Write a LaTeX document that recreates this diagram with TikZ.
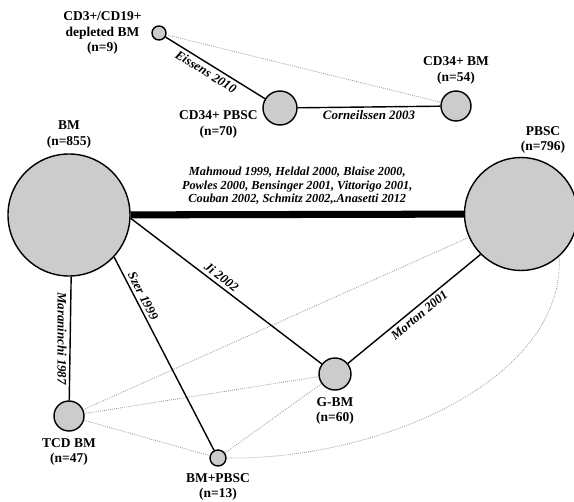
\documentclass[tikz,border=0pt]{standalone}
\usepackage{fontspec}
\setmainfont{Liberation Serif}
\usepackage{tikz}
\usetikzlibrary{positioning}

\begin{document}
\begin{tikzpicture}
        [x=0.03cm, y=-0.03cm,
         ball/.style={circle, draw, line width=1.2pt, fill=gray!40, inner sep=0pt},
         txt/.style={font=\fontsize{11.5}{13.5}\selectfont\bfseries, align=center, inner sep=1pt},
         ref/.style={font=\fontsize{11}{12}\selectfont\bfseries\itshape, inner sep=2.5pt},
         link/.style={line width=1.2pt},
         nolink/.style={gray!80, densely dotted, line width=0.7pt}]
      \useasboundingbox (0,0) rectangle (574,502);
      \node[ball, minimum size=3.66cm]  (BM)     at (69,215)  {};
      \node[ball, minimum size=3.39cm]  (PBSC)   at (521,214) {};
      \node[ball, minimum size=0.42cm]  (CDdep)  at (159,33)  {};
      \node[ball, minimum size=1.02cm]  (CDPBSC) at (280,108) {};
      \node[ball, minimum size=0.9cm]   (CDBM)   at (456,106) {};
      \node[ball, minimum size=0.9cm]   (TCD)    at (69,416)  {};
      \node[ball, minimum size=0.48cm]  (BMPBSC) at (218,458) {};
      \node[ball, minimum size=0.96cm]  (GBM)    at (335,374) {};

      \node[txt]  (CDdepl)  [left=0.25cm of CDdep] {CD3+/CD19+\\depleted BM\\(n=9)};
      \node[txt]  (CDPBSCl) [below left=0.05cm and 0.1cm of CDPBSC.west] {CD34+ PBSC\\(n=70)};
      \node[txt]  (CDBMl)   [above=0.15cm of CDBM] {CD34+ BM\\(n=54)};
      \node[txt]  (BMl)     [above=0.12cm of BM] {BM\\(n=855)};
      \node[txt]  (PBSCl)   [above=0.05cm of PBSC.north, xshift=0.66cm] {PBSC\\(n=796)};
      \node[txt]  (TCDl)    [below=0.15cm of TCD] {TCD BM\\(n=47)};
      \node[txt]  (BMPBSCl) [below=0.15cm of BMPBSC] {BM+PBSC\\(n=13)};
      \node[txt]  (GBMl)    [below=0.15cm of GBM] {G-BM\\(n=60)};

      \path [nolink] (CDdep) edge (CDBM)
            (TCD) edge (PBSC)
            (TCD) edge (GBM)
            (TCD) edge (BMPBSC)
            (BMPBSC) edge (GBM);
      \draw [nolink] (BMPBSC.east) .. controls (380,460) and (565,380) .. (PBSC.-48);

      \path (BM) edge [line width=6pt] node [ref, above=3pt, align=center,
                font=\fontsize{10.5}{11.5}\selectfont\bfseries\itshape]
                {Mahmoud 1999, Heldal 2000, Blaise 2000,\\
                 Powles 2000, Bensinger 2001, Vittorigo 2001,\\
                 Couban 2002, Schmitz 2002,.Anasetti 2012} (PBSC);
      \path [link] (CDdep) edge node [ref, below, sloped, pos=0.45] {Eissens 2010} (CDPBSC)
            (CDPBSC) edge node [ref, below] {Corneilssen 2003} (CDBM)
            (BM.-88) edge node [ref, rotate=-90, anchor=north, midway] {Maraninchi 1987} (TCD)
            (BM.-43) edge node [ref, above, sloped, pos=0.22] {Szer 1999} (BMPBSC)
            (BM.-3) edge node [ref, above, sloped, pos=0.45] {Ji 2002} (GBM)
            (GBM) edge node [ref, below, sloped] {Morton 2001} (PBSC.-135);
      \end{tikzpicture}
\end{document}
